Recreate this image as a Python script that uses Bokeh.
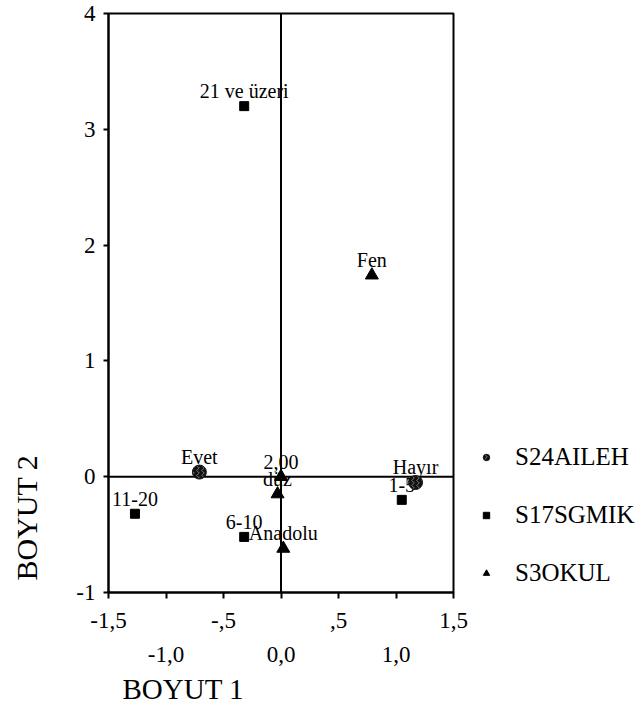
from bokeh.plotting import figure
from bokeh.models import (Range1d, LinearAxis, FixedTicker, Span, Title,
                          Legend, LegendItem, ColumnDataSource)
from bokeh.core.properties import value
from bokeh.embed import file_html
from bokeh.resources import INLINE

# ---------------- data ----------------
aileh_labels = ["Evet", "Hayır"]
aileh_x = [-0.71, 1.17]
aileh_y = [0.04, -0.05]

sgmik_labels = ["21 ve üzeri", "11-20", "6-10", "1-5"]
sgmik_x = [-0.32, -1.27, -0.32, 1.05]
sgmik_y = [3.20, -0.32, -0.52, -0.20]

okul_labels = ["Fen", "2,00", "düz", "Anadolu"]
okul_x = [0.79, 0.00, -0.03, 0.02]
okul_y = [1.74, 0.00, -0.15, -0.62]

series_names = ["S24AILEH", "S17SGMIK", "S3OKUL"]

x_ticks = [-1.5, -1.0, -0.5, 0.0, 0.5, 1.0, 1.5]
x_ticks_upper_labels = {-1.5: "-1,5", -1.0: "", -0.5: "-,5", 0.0: "", 0.5: ",5", 1.0: "", 1.5: "1,5"}
x_ticks_lower = [-1.0, 0.0, 1.0]
x_ticks_lower_labels = {-1.0: "-1,0", 0.0: "0,0", 1.0: "1,0"}
y_ticks = [-1, 0, 1, 2, 3, 4]
y_tick_labels = {-1: "-1", 0: "0", 1: "1", 2: "2", 3: "3", 4: "4"}
x_title = "BOYUT 1"
y_title = "BOYUT 2"

FONT = "Liberation Serif"

p = figure(frame_width=345, frame_height=579, output_backend="svg", toolbar_location=None,
           x_range=Range1d(-1.5, 1.5), y_range=Range1d(-1, 4),
           min_border_left=108, min_border_right=179, min_border_top=13,
           min_border_bottom=0)
p.grid.visible = False
p.outline_line_color = "black"
p.outline_line_width = 2
p.background_fill_color = "white"
p.border_fill_color = "white"

# zero lines
p.add_layout(Span(location=0, dimension="height", line_color="black", line_width=2, level="underlay"))
p.add_layout(Span(location=0, dimension="width", line_color="black", line_width=2, level="underlay"))

# axes
xa = p.xaxis[0]
xa.ticker = FixedTicker(ticks=x_ticks)
xa.major_label_overrides = x_ticks_upper_labels
xa.axis_line_color = "black"
xa.axis_line_width = 2
xa.major_tick_line_width = 2
xa.major_tick_in = 0
xa.major_tick_out = 6
xa.minor_tick_line_color = None
xa.major_label_standoff = 14
xa.major_label_text_font = FONT
xa.major_label_text_font_size = "23px"
xa.major_label_text_color = "black"

xa2 = LinearAxis(ticker=FixedTicker(ticks=x_ticks_lower),
                 major_label_overrides=x_ticks_lower_labels,
                 axis_line_color=None, major_tick_line_color=None,
                 minor_tick_line_color=None, major_tick_in=0, major_tick_out=0,
                 major_label_standoff=16, major_label_text_font=FONT,
                 major_label_text_font_size="23px", major_label_text_color="black")
p.add_layout(xa2, "below")

ya = p.yaxis[0]
ya.ticker = FixedTicker(ticks=y_ticks)
ya.major_label_overrides = y_tick_labels
ya.axis_line_color = "black"
ya.axis_line_width = 2
ya.major_tick_line_width = 2
ya.major_tick_in = 0
ya.major_tick_out = 5
ya.minor_tick_line_color = None
ya.major_label_standoff = 8
ya.major_label_text_font = FONT
ya.major_label_text_font_size = "23px"
ya.major_label_text_color = "black"

# axis titles as side titles (left-aligned, as in the reference)
p.add_layout(Title(text=x_title, align="left", offset=14, standoff=16,
                   vertical_align="top",
                   text_font=FONT, text_font_size="29px", text_font_style="normal",
                   text_color="black"), "below")
# spacer between y tick labels and the y title
p.add_layout(Title(text=" ", standoff=28, text_font_size="1px"), "left")
p.add_layout(Title(text=y_title, align="left", offset=12, standoff=0,
                   text_font=FONT, text_font_size="30px", text_font_style="normal",
                   text_color="black"), "left")

# point labels (drawn before markers so markers overlap)
for xs, ys, labs in [(aileh_x, aileh_y, aileh_labels),
                     (sgmik_x, sgmik_y, sgmik_labels),
                     (okul_x, okul_y, okul_labels)]:
    src = ColumnDataSource(dict(x=xs, y=ys, t=labs))
    p.text(x="x", y="y", text="t", source=src, text_font=value(FONT),
           text_font_size="20px", text_align="center", text_baseline="alphabetic",
           y_offset=-15, text_color="black")

r1 = p.scatter(aileh_x, aileh_y, marker="circle", size=14, fill_color="#111111",
               line_color="#111111", hatch_pattern="vertical_wave", hatch_color="#777777",
               hatch_scale=5, hatch_weight=1)
r2 = p.scatter(sgmik_x, sgmik_y, marker="square", size=9, fill_color="black",
               line_color="black")
r3 = p.scatter(okul_x, okul_y, marker="triangle", size=13, fill_color="black",
               line_color="black")

legend = Legend(items=[LegendItem(label=series_names[0], renderers=[r1]),
                       LegendItem(label=series_names[1], renderers=[r2]),
                       LegendItem(label=series_names[2], renderers=[r3])],
                location=(25, 5), padding=0, margin=0, spacing=30,
                glyph_width=16, glyph_height=16, label_standoff=21,
                label_text_font=FONT, label_text_font_size="25px",
                label_text_color="black", border_line_color=None,
                background_fill_alpha=0)
p.add_layout(legend, "right")

open("out.html", "w").write(file_html(p, INLINE))
